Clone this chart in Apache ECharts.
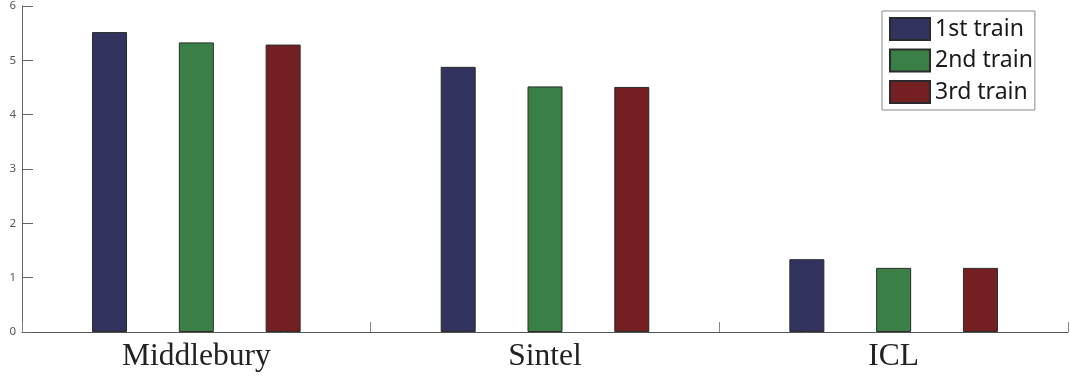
<!DOCTYPE html>
<html>
<head>
<meta charset="utf-8">
<script src="https://cdn.jsdelivr.net/npm/echarts@6/dist/echarts.min.js"></script>
<style>html,body{margin:0;padding:0;background:#fff}#c{width:1070px;height:377px}</style>
</head>
<body>
<div id="c"></div>
<script>
const categories = ['Middlebury', 'Sintel', 'ICL'];
const seriesNames = ['1st train', '2nd train', '3rd train'];
const train1 = [5.52, 4.88, 1.34];
const train2 = [5.33, 4.52, 1.18];
const train3 = [5.29, 4.51, 1.18];
const yTicks = [0, 1, 2, 3, 4, 5, 6];

const colors = ['#32335f', '#3a8046', '#741f22'];
const data = [train1, train2, train3];

const chart = echarts.init(document.getElementById('c'), null, {renderer: 'canvas'});
chart.setOption({
  animation: false,
  backgroundColor: '#fff',
  grid: {left: 22, right: 2, top: 5.7, bottom: 45, containLabel: false},
  legend: {
    orient: 'vertical',
    left: 882, top: 11,
    padding: [6, 2, 6, 7],
    itemWidth: 40, itemHeight: 22, itemGap: 7.5,
    borderColor: '#888', borderWidth: 1,
    icon: 'rect',
    textStyle: {fontFamily: 'Noto Sans', fontSize: 23, color: '#1a1a1a', lineHeight: 22},
    data: seriesNames
  },
  xAxis: {
    type: 'category',
    data: categories,
    axisLine: {lineStyle: {color: '#555', width: 1}},
    axisTick: {show: true, inside: true, length: 10, interval: 0, lineStyle: {color: '#888'}},
    axisLabel: {fontFamily: 'Liberation Serif', fontSize: 31.5, color: '#222', margin: 9},
    splitLine: {show: false}
  },
  yAxis: {
    type: 'value',
    min: yTicks[0], max: yTicks[yTicks.length - 1], interval: 1,
    axisLine: {show: true, lineStyle: {color: '#666'}},
    axisTick: {show: true, inside: true, length: 11, lineStyle: {color: '#666'}},
    axisLabel: {fontFamily: 'Noto Sans', fontSize: 11.5, color: '#555', margin: 6},
    splitLine: {show: false}
  },
  series: data.map((d, i) => ({
    name: seriesNames[i],
    type: 'bar',
    data: d,
    barWidth: 35,
    barGap: '148%',
    itemStyle: {color: colors[i], borderColor: '#2a2a2a', borderWidth: 1}
  }))
});
</script>
</body>
</html>
